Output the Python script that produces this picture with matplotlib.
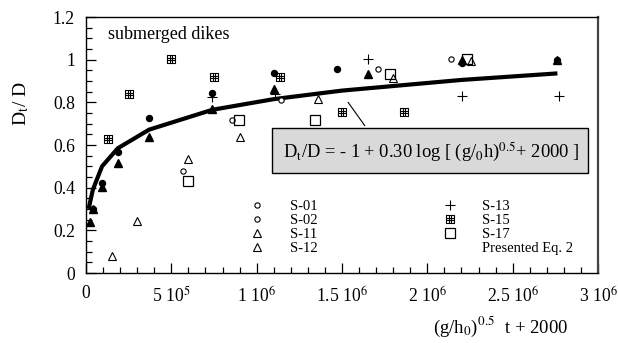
import matplotlib
matplotlib.use("Agg")
import matplotlib.pyplot as plt
from matplotlib.path import Path
from matplotlib.lines import Line2D
from matplotlib.patches import Rectangle
from matplotlib.ticker import MultipleLocator, FixedLocator

plt.rcParams['font.family'] = ['Liberation Serif', 'DejaVu Serif']
plt.rcParams['mathtext.fontset'] = 'stix'

# ---- data ----
s01_x = [0.04e6, 0.094e6, 0.187e6, 0.37e6, 0.74e6, 1.10e6, 1.47e6, 2.205e6, 2.76e6]
s01_y = [0.30, 0.42, 0.567, 0.727, 0.844, 0.938, 0.956, 0.985, 1.0]
s02_x = [0.567e6, 0.855e6, 1.14e6, 1.71e6, 2.14e6]
s02_y = [0.478, 0.717, 0.811, 0.956, 1.003]
s11_x = [0.023e6, 0.04e6, 0.094e6, 0.187e6, 0.37e6, 0.74e6, 1.10e6, 1.655e6, 2.205e6, 2.76e6]
s11_y = [0.239, 0.30, 0.405, 0.516, 0.638, 0.769, 0.863, 0.933, 1.0, 1.0]
s12_x = [0.152e6, 0.30e6, 0.60e6, 0.905e6, 1.357e6, 1.80e6, 2.257e6]
s12_y = [0.08, 0.244, 0.534, 0.638, 0.816, 0.914, 0.994]
s13_x = [0.74e6, 1.11e6, 1.65e6, 2.205e6, 2.77e6]
s13_y = [0.825, 0.839, 1.003, 0.83, 0.83]
s15_x = [0.129e6, 0.25e6, 0.50e6, 0.75e6, 1.134e6, 1.50e6, 1.865e6]
s15_y = [0.628, 0.839, 1.003, 0.919, 0.919, 0.755, 0.755]
s17_x = [0.597e6, 0.895e6, 1.34e6, 1.78e6, 2.23e6]
s17_y = [0.431, 0.717, 0.717, 0.933, 1.003]
eq_x = [0.018e6, 0.04e6, 0.094e6, 0.187e6, 0.37e6, 0.74e6, 1.1e6, 1.5e6, 2.2e6, 2.75e6]
eq_y = [0.31, 0.39, 0.50, 0.585, 0.672, 0.765, 0.815, 0.855, 0.905, 0.935]

xtick_vals = [0, 0.5e6, 1.0e6, 1.5e6, 2.0e6, 2.5e6, 3.0e6]
xtick_labels = ['0', '5 10$^{5}$', '1 10$^{6}$', '1.5 10$^{6}$', '2 10$^{6}$',
                '2.5 10$^{6}$', '3 10$^{6}$']
ytick_vals = [0, 0.2, 0.4, 0.6, 0.8, 1.0, 1.2]
ytick_labels = ['0', '0.2', '0.4', '0.6', '0.8', '1', '1.2']

# grid-square marker for S-15
verts = [(-1, -1), (1, -1), (1, 1), (-1, 1), (-1, -1),
         (-1/3, -1), (-1/3, 1), (1/3, -1), (1/3, 1),
         (-1, -1/3), (1, -1/3), (-1, 1/3), (1, 1/3)]
codes = [Path.MOVETO, Path.LINETO, Path.LINETO, Path.LINETO, Path.CLOSEPOLY,
         Path.MOVETO, Path.LINETO, Path.MOVETO, Path.LINETO,
         Path.MOVETO, Path.LINETO, Path.MOVETO, Path.LINETO]
grid_marker = Path(verts, codes)

fig = plt.figure(figsize=(6.18, 3.43), dpi=100)
ax = fig.add_axes([86/618, 1 - 273/343, 512/618, 256/343])

ax.plot(eq_x, eq_y, color='black', lw=3.0, solid_joinstyle='miter', zorder=2)

ax.plot(s01_x, s01_y, 'o', ms=4.3, mfc='black', mec='black', zorder=3)
ax.plot(s02_x, s02_y, 'o', ms=3.8, mfc='white', mec='black', mew=0.8, zorder=3)
ax.plot(s11_x, s11_y, '^', ms=5.2, mfc='black', mec='black', zorder=3)
ax.plot(s12_x, s12_y, '^', ms=5.2, mfc='white', mec='black', mew=0.8, zorder=3)
ax.plot(s13_x, s13_y, '+', ms=7.5, mec='black', mew=0.8, zorder=3)
ax.plot(s15_x, s15_y, marker=grid_marker, ls='none', ms=5.8, mfc='none', mec='black', mew=0.8, zorder=3)
ax.plot(s17_x, s17_y, 's', ms=7.5, mfc='none', mec='black', mew=0.9, zorder=3)

ax.set_xlim(0, 3e6)
ax.set_ylim(0, 1.2)
ax.xaxis.set_major_locator(FixedLocator(xtick_vals))
ax.set_xticklabels(xtick_labels)
ax.xaxis.set_minor_locator(MultipleLocator(1e5))
ax.yaxis.set_major_locator(FixedLocator(ytick_vals))
ax.set_yticklabels(ytick_labels)
ax.yaxis.set_minor_locator(MultipleLocator(0.05))
ax.tick_params(which='both', direction='in', top=False, right=False, labelsize=12.7)
ax.tick_params(which='major', length=7, width=0.9)
ax.tick_params(which='minor', length=4, width=0.9)
ax.tick_params(axis='x', pad=9)
ax.tick_params(axis='y', pad=8)
for s in ax.spines.values():
    s.set_linewidth(1.0)
ax.spines['right'].set_linewidth(1.6)
ax.spines['right'].set_color('#444444')

ax.set_ylabel('D$_\\mathrm{t}$/ D', fontsize=14)
ax.yaxis.set_label_coords(-0.108, 0.66)
ax.set_xlabel('(g/h$_\\mathrm{0}$)$^{0.5}$  t + 2000', fontsize=13.5)
ax.xaxis.set_label_coords(0.809, -0.165)

ax.text(0.043, 0.93, 'submerged dikes', transform=ax.transAxes, fontsize=13,
        ha='left', va='center')

# equation box
ax.add_patch(Rectangle((0.363, 0.391), 0.617, 0.176, transform=ax.transAxes,
                       facecolor='#d9d9d9', edgecolor='black', lw=1.0, zorder=4))
ax.text(0.675, 0.472, 'D$_\\mathrm{t}$/D = - 1 + 0.30 log [ (g/$_\\mathrm{0}$h)$^{0.5}$+ 2000 ]',
        transform=ax.transAxes, fontsize=13.3, ha='center', va='center', zorder=5)
ax.annotate('', xy=(1.526e6, 0.811), xytext=(1.643e6, 0.68),
            arrowprops=dict(arrowstyle='-', lw=0.8, color='black'), zorder=3)

# legend
h = [Line2D([], [], ls='none', marker='o', ms=3.8, mfc='white', mec='black', mew=0.8),
     Line2D([], [], ls='none', marker='o', ms=3.8, mfc='white', mec='black', mew=0.8),
     Line2D([], [], ls='none', marker='^', ms=5.2, mfc='white', mec='black', mew=0.8),
     Line2D([], [], ls='none', marker='^', ms=5.2, mfc='white', mec='black', mew=0.8),
     Line2D([], [], ls='none', marker='+', ms=7.5, mec='black', mew=0.8),
     Line2D([], [], ls='none', marker=grid_marker, ms=5.8, mfc='none', mec='black', mew=0.8),
     Line2D([], [], ls='none', marker='s', ms=7.5, mfc='none', mec='black', mew=0.9),
     Line2D([], [], ls='none')]
labels = ['S-01', 'S-02', 'S-11', 'S-12', 'S-13', 'S-15', 'S-17', 'Presented Eq. 2']
ax.legend(h, labels, ncol=2, loc='upper left', bbox_to_anchor=(0.32, 0.285),
          frameon=False, fontsize=10.5, handlelength=1.0, handletextpad=1.75,
          columnspacing=8.55, labelspacing=0.05, borderpad=0, borderaxespad=0)

fig.savefig('out.png', dpi=100)
